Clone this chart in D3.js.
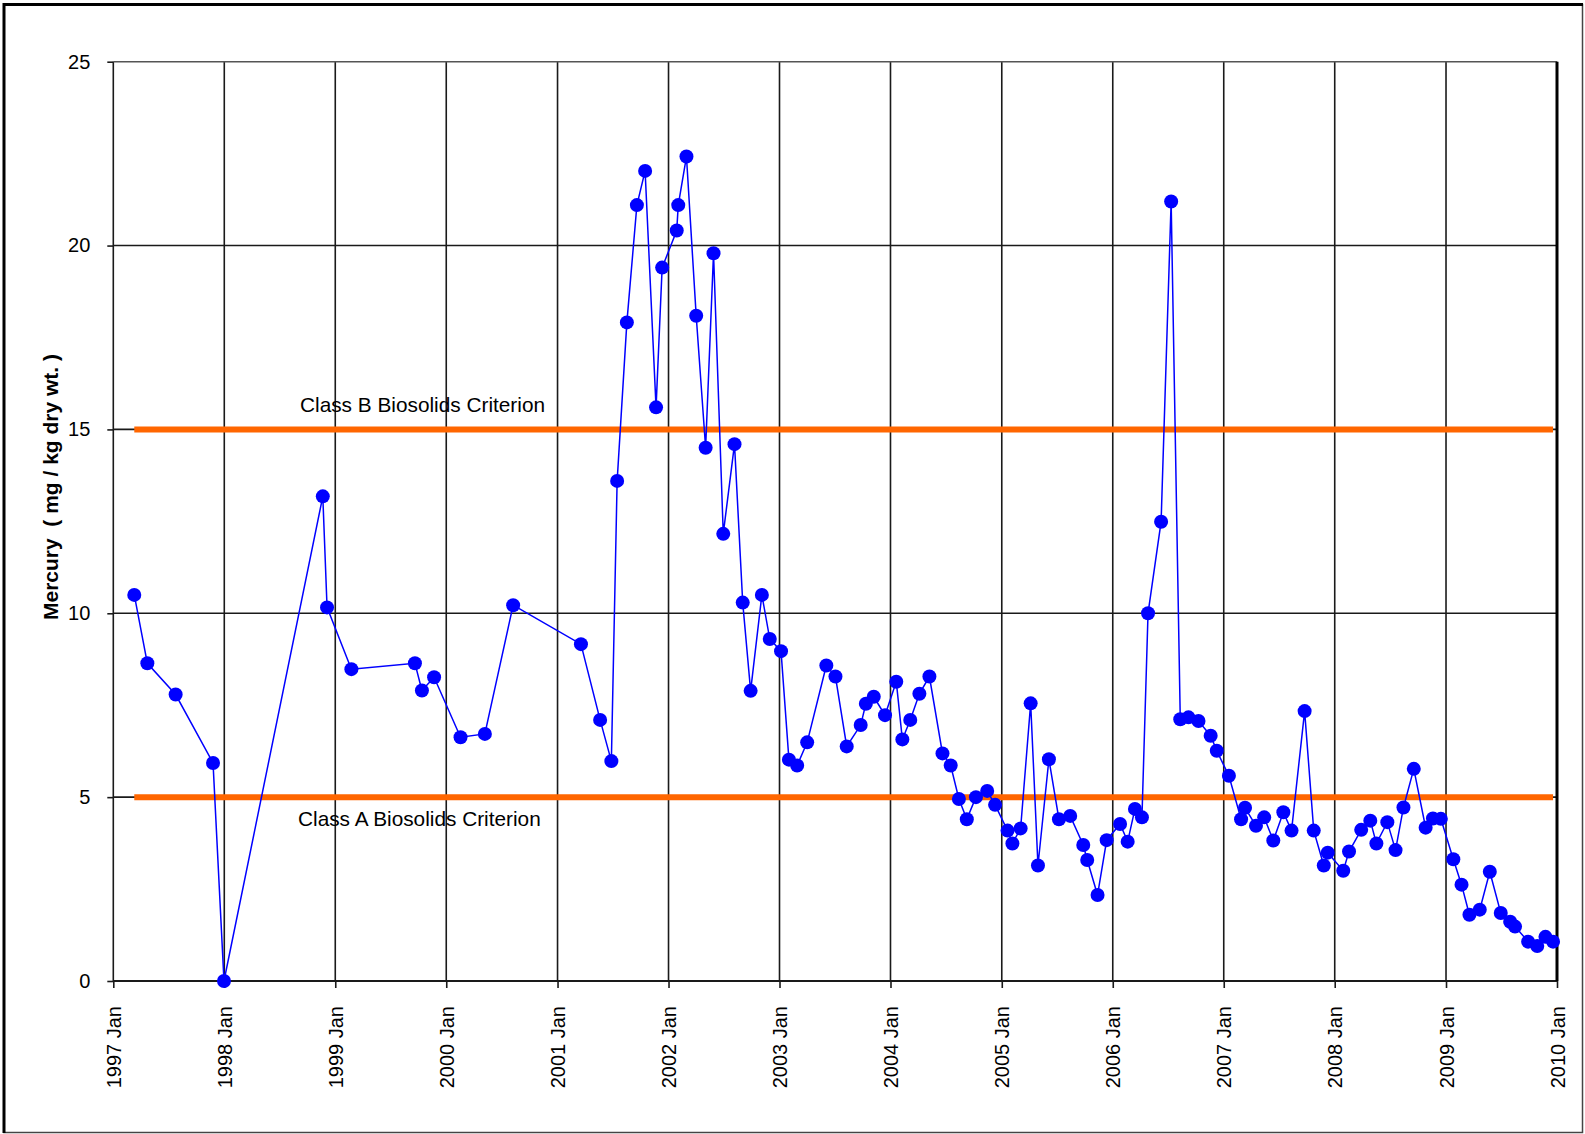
<!DOCTYPE html>
<html>
<head>
<meta charset="utf-8">
<script src="https://cdn.jsdelivr.net/npm/d3@7"></script>
<style>
  body { margin: 0; background: #fff; }
  text { font-family: "Liberation Sans", Arial, sans-serif; fill: #000; }
</style>
</head>
<body>
<div id="chart"></div>
<script>

// sample dates and mercury concentration (mg/kg dry wt.)
var sampleDates = [
  "1997-03-11", "1997-04-23", "1997-07-25", "1997-11-25", "1997-12-31",
  "1998-11-21", "1998-12-05", "1999-02-23", "1999-09-20", "1999-10-13",
  "1999-11-22", "2000-02-17", "2000-05-07", "2000-08-08", "2001-03-19",
  "2001-05-21", "2001-06-27", "2001-07-16", "2001-08-17", "2001-09-19",
  "2001-10-16", "2001-11-21", "2001-12-11", "2002-01-28", "2002-02-02",
  "2002-03-01", "2002-04-02", "2002-05-03", "2002-05-29", "2002-06-30",
  "2002-08-06", "2002-09-02", "2002-09-28", "2002-11-04", "2002-11-30",
  "2003-01-06", "2003-02-01", "2003-02-28", "2003-04-02", "2003-06-04",
  "2003-07-04", "2003-08-10", "2003-09-25", "2003-10-12", "2003-11-07",
  "2003-12-14", "2004-01-20", "2004-02-09", "2004-03-06", "2004-04-05",
  "2004-05-08", "2004-06-20", "2004-07-17", "2004-08-13", "2004-09-08",
  "2004-10-08", "2004-11-14", "2004-12-10", "2005-01-20", "2005-02-05",
  "2005-03-04", "2005-04-06", "2005-04-30", "2005-06-05", "2005-07-08",
  "2005-08-14", "2005-09-26", "2005-10-09", "2005-11-12", "2005-12-12",
  "2006-01-25", "2006-02-19", "2006-03-15", "2006-04-07", "2006-04-27",
  "2006-06-09", "2006-07-12", "2006-08-11", "2006-09-07", "2006-10-10",
  "2006-11-19", "2006-12-09", "2007-01-18", "2007-02-27", "2007-03-12",
  "2007-04-17", "2007-05-14", "2007-06-13", "2007-07-16", "2007-08-12",
  "2007-09-24", "2007-10-24", "2007-11-26", "2007-12-09", "2008-01-29",
  "2008-02-17", "2008-03-28", "2008-04-27", "2008-05-17", "2008-06-22",
  "2008-07-19", "2008-08-14", "2008-09-17", "2008-10-26", "2008-11-19",
  "2008-12-15", "2009-01-25", "2009-02-21", "2009-03-19", "2009-04-22",
  "2009-05-25", "2009-06-30", "2009-07-31", "2009-08-16", "2009-09-28",
  "2009-10-28", "2009-11-24", "2009-12-19"
];

var mercury = [
  10.5, 8.64, 7.79, 5.93, 0,
  13.18, 10.16, 8.48, 8.64, 7.9,
  8.26, 6.63, 6.72, 10.22, 9.16,
  7.1, 5.98, 13.6, 17.91, 21.1,
  22.03, 15.6, 19.4, 20.41, 21.1,
  22.42, 18.09, 14.5, 19.79, 12.16,
  14.6, 10.29, 7.89, 10.5, 9.3,
  8.97, 6.02, 5.86, 6.49, 8.58,
  8.28, 6.38, 6.96, 7.54, 7.73,
  7.23, 8.14, 6.57, 7.1, 7.81,
  8.28, 6.19, 5.86, 4.95, 4.4,
  5.0, 5.17, 4.79, 4.09, 3.74,
  4.15, 7.55, 3.14, 6.03, 4.4,
  4.49, 3.7, 3.29, 2.34, 3.83,
  4.27, 3.79, 4.68, 4.45, 10.0,
  12.49, 21.2, 7.12, 7.17, 7.07,
  6.67, 6.26, 5.58, 4.4, 4.71,
  4.22, 4.45, 3.82, 4.59, 4.09,
  7.34, 4.09, 3.14, 3.49, 3.0,
  3.52, 4.11, 4.36, 3.74, 4.32,
  3.56, 4.72, 5.77, 4.17, 4.42,
  4.41, 3.31, 2.62, 1.8, 1.94,
  2.97, 1.85, 1.61, 1.48, 1.07,
  0.95, 1.2, 1.07
];

var yTicks = [0, 5, 10, 15, 20, 25];
var xTickYears = [1997, 1998, 1999, 2000, 2001, 2002, 2003, 2004, 2005, 2006, 2007, 2008, 2009, 2010];

var criteria = [15, 5];
var criteriaLabels = ["Class B Biosolids Criterion", "Class A Biosolids Criterion"];

var W = 1585, H = 1134;
var plot = {left: 113.3, right: 1557, top: 61.7, bottom: 981};

var parseDate = d3.timeParse("%Y-%m-%d");
var data = sampleDates.map(function(d, i) { return {date: parseDate(d), value: mercury[i]}; });
var xTicks = xTickYears.map(function(y) { return new Date(y, 0, 1); });

var x = d3.scaleTime()
    .domain([xTicks[0], xTicks[xTicks.length - 1]])
    .range([plot.left, plot.right]);
var y = d3.scaleLinear()
    .domain([0, 25])
    .range([plot.bottom, plot.top]);

var svg = d3.select("#chart").append("svg")
    .attr("width", W)
    .attr("height", H);

svg.append("rect").attr("width", W).attr("height", H).style("fill", "#fff");

// outer frame
svg.append("rect")
    .attr("x", 4).attr("y", 4.5)
    .attr("width", 1578.5).attr("height", 1128)
    .style("fill", "none").style("stroke", "#444").style("stroke-width", 1.5);
svg.append("line").attr("x1", 3).attr("x2", 1583).attr("y1", 4.5).attr("y2", 4.5)
    .style("stroke", "#000").style("stroke-width", 3);
svg.append("line").attr("x1", 4).attr("x2", 4).attr("y1", 3).attr("y2", 1133)
    .style("stroke", "#000").style("stroke-width", 3);

// grid
svg.append("g").selectAll("line").data(xTicks).enter().append("line")
    .attr("x1", function(d) { return x(d); })
    .attr("x2", function(d) { return x(d); })
    .attr("y1", plot.top).attr("y2", plot.bottom)
    .style("stroke", "#1a1a1a").style("stroke-width", 1.6);
svg.append("g").selectAll("line").data(yTicks).enter().append("line")
    .attr("x1", plot.left).attr("x2", plot.right)
    .attr("y1", function(d) { return y(d); })
    .attr("y2", function(d) { return y(d); })
    .style("stroke", function(d) { return d == 25 ? "#555" : "#1a1a1a"; })
    .style("stroke-width", function(d) { return d == 0 ? 2 : 1.6; });

// thick right edge of plot
svg.append("line")
    .attr("x1", plot.right).attr("x2", plot.right)
    .attr("y1", plot.top).attr("y2", plot.bottom)
    .style("stroke", "#000").style("stroke-width", 3);

// axes
var yAxis = svg.append("g")
    .attr("transform", "translate(" + plot.left + ",0)")
    .call(d3.axisLeft(y).tickValues(yTicks).tickSize(6).tickPadding(17));
var xAxis = svg.append("g")
    .attr("transform", "translate(0," + plot.bottom + ")")
    .call(d3.axisBottom(x).tickValues(xTicks).tickSize(7)
            .tickFormat(d3.timeFormat("%Y Jan")));
[yAxis, xAxis].forEach(function(a) {
  a.select(".domain").remove();
  a.selectAll(".tick line").style("stroke", "#1a1a1a").style("stroke-width", 1.6);
  a.selectAll("text").style("font-size", "20px").style("fill", "#000")
      .style("font-family", "'Liberation Sans', Arial, sans-serif");
});
xAxis.selectAll("text")
    .attr("transform", "rotate(-90)")
    .attr("x", -25).attr("y", 0)
    .attr("dy", "0.35em")
    .style("text-anchor", "end");

// y axis title
svg.append("text")
    .attr("transform", "translate(51,487) rotate(-90)")
    .attr("dy", "0.35em")
    .style("text-anchor", "middle")
    .style("font-size", "21px")
    .style("font-weight", "bold")
    .style("white-space", "pre")
    .text("Mercury  ( mg / kg dry wt. )");

// criterion lines
var firstDate = data[0].date, lastDate = data[data.length - 1].date;
svg.append("g").selectAll("line").data(criteria).enter().append("line")
    .attr("x1", x(firstDate)).attr("x2", x(lastDate))
    .attr("y1", function(d) { return y(d); })
    .attr("y2", function(d) { return y(d); })
    .style("stroke", "#FF6600").style("stroke-width", 6);

svg.append("text")
    .attr("x", 300).attr("y", y(criteria[0]) - 17)
    .style("font-size", "20.8px")
    .text(criteriaLabels[0]);
svg.append("text")
    .attr("x", 298).attr("y", y(criteria[1]) + 29)
    .style("font-size", "20.8px")
    .text(criteriaLabels[1]);

// data line and markers
var valueline = d3.line()
    .x(function(d) { return x(d.date); })
    .y(function(d) { return y(d.value); });

svg.append("path")
    .datum(data)
    .attr("d", valueline)
    .style("fill", "none")
    .style("stroke", "#0000FF")
    .style("stroke-width", 1.5);

svg.append("g").selectAll("circle").data(data).enter().append("circle")
    .attr("cx", function(d) { return x(d.date); })
    .attr("cy", function(d) { return y(d.value); })
    .attr("r", 7)
    .style("fill", "#0000FF");

</script>
</body>
</html>
